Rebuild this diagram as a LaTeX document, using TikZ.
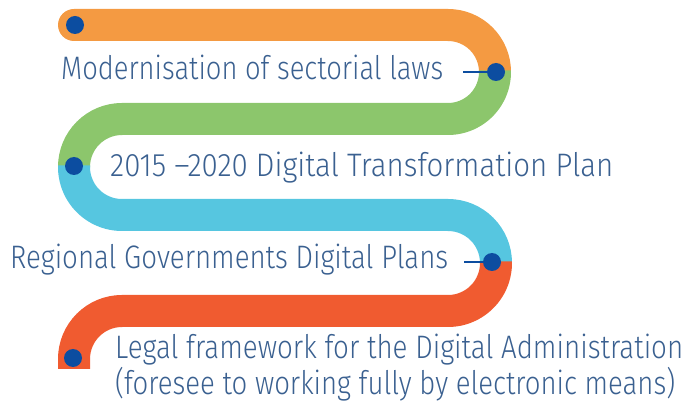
\documentclass[tikz,border=0pt]{standalone}
\usepackage{fontspec}
\setmainfont{Fira Sans Light}
\usepackage{graphicx}
\usetikzlibrary{calc}
\definecolor{cor}{HTML}{F49A42}
\definecolor{cgr}{HTML}{8CC66C}
\definecolor{cbl}{HTML}{56C6E0}
\definecolor{crd}{HTML}{F05B30}
\definecolor{cdot}{HTML}{0C4DA0}
\definecolor{ctxt}{HTML}{3A6090}
\newcommand{\fitw}[2]{\resizebox{#1pt}{\height}{#2}}
\begin{document}
\begin{tikzpicture}[x=1pt,y=-1pt,
  band/.style={line width=32pt},
  dotnode/.style={circle,fill=cdot,minimum size=18pt,inner sep=0pt},
  conn/.style={draw=cdot,line width=2pt},
  lbl/.style={anchor=base west,inner sep=0pt,text=ctxt,font=\fontsize{32.5}{35}\selectfont}]
\useasboundingbox (0,0) rectangle (689,406);
% bands
\draw[band,cor,line cap=round] (74,25) -- (448,25) arc (-90:0:47);
\draw[band,cgr] ($(448,72)+(-2:47)$) arc (-2:90:47) -- (122,119) arc (-90:-180:48);
\draw[band,cbl] ($(122,167)+(182:48)$) arc (182:90:48) -- (448,215) arc (-90:0:48);
\draw[band,crd] ($(448,263)+(-2:48)$) arc (-2:90:48) -- (122,311) arc (-90:-180:48) -- (74,369);
% dots
\node[dotnode] (d1) at (75,25) {};
\node[dotnode] (d2) at (496,72) {};
\node[dotnode] (d3) at (74,166) {};
\node[dotnode] (d4) at (492,262) {};
\node[dotnode] (d5) at (73,358) {};
% labels
\node[lbl] (t1) at (61,80) {\fitw{382}{Modernisation of sectorial laws}};
\node[lbl] (t2) at (110,177) {\fitw{503}{2015 –2020 Digital Transformation Plan}};
\node[lbl] (t3) at (10,269) {\fitw{438}{Regional Governments Digital Plans}};
\node[lbl] (t4) at (115,359) {\fitw{568}{Legal framework for the Digital Administration}};
\node[lbl] (t5) at (115,394) {\fitw{560}{(foresee to working fully by electronic means)}};
% connectors
\coordinate (c1) at (463,72);
\coordinate (c2) at (464,262);
\draw[conn] (c1) -- (d2);
\draw[conn] (c2) -- (d4);
\end{tikzpicture}
\end{document}
